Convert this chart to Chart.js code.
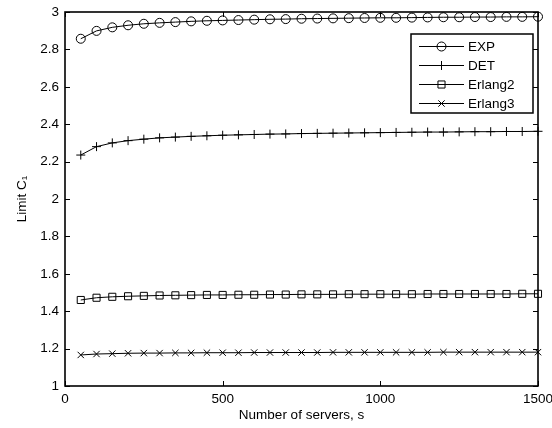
<!DOCTYPE html>
<html>
<head>
<meta charset="utf-8">
<script src="https://cdn.jsdelivr.net/npm/chart.js@4.4.0/dist/chart.umd.min.js"></script>
<style>
html,body{margin:0;padding:0;background:#fff;}
#wrap{width:552px;height:428px;}
</style>
</head>
<body>
<div id="wrap"><canvas id="c" width="552" height="428"></canvas></div>
<script>
// ---- data ----
const servers = [50,100,150,200,250,300,350,400,450,500,550,600,650,700,750,800,850,900,950,1000,1050,1100,1150,1200,1250,1300,1350,1400,1450,1500];
const seriesNames = ['EXP','DET','Erlang2','Erlang3'];
const expValues = [2.857,2.899,2.918,2.929,2.937,2.942,2.946,2.950,2.953,2.955,2.957,2.959,2.961,2.962,2.964,2.965,2.966,2.967,2.968,2.969,2.969,2.970,2.971,2.972,2.972,2.973,2.973,2.974,2.974,2.975];
const detValues = [2.235,2.280,2.300,2.312,2.320,2.327,2.331,2.335,2.338,2.341,2.343,2.345,2.347,2.348,2.350,2.351,2.352,2.353,2.354,2.355,2.356,2.357,2.358,2.358,2.359,2.360,2.360,2.361,2.361,2.362];
const erlang2Values = [1.460,1.472,1.477,1.480,1.482,1.484,1.485,1.486,1.487,1.487,1.488,1.488,1.489,1.489,1.490,1.490,1.490,1.491,1.491,1.491,1.491,1.491,1.492,1.492,1.492,1.492,1.492,1.492,1.493,1.493];
const erlang3Values = [1.166,1.171,1.173,1.175,1.176,1.176,1.177,1.177,1.178,1.178,1.178,1.179,1.179,1.179,1.179,1.179,1.180,1.180,1.180,1.180,1.180,1.180,1.180,1.181,1.181,1.181,1.181,1.181,1.181,1.181];
const xTicks = [0,500,1000,1500];
const yTicks = [1,1.2,1.4,1.6,1.8,2,2.2,2.4,2.6,2.8,3];
const xTitle = 'Number of servers, s';
const yTitle = 'Limit C\u2081';

// ---- styles ----
const FONT = '"Liberation Sans", Arial, Helvetica, sans-serif';
const FS = 13.5;
const markers = [
  {style:'circle', radius:4.5},
  {style:'cross', radius:4.5},
  {style:'rect', radius:5},
  {style:'crossRot', radius:4.5}
];
const allValues = [expValues, detValues, erlang2Values, erlang3Values];

const datasets = allValues.map((vals, i) => ({
  label: seriesNames[i],
  data: servers.map((s, j) => ({x: s, y: vals[j]})),
  borderColor: '#000',
  backgroundColor: 'rgba(0,0,0,0)',
  borderWidth: 1,
  pointStyle: markers[i].style,
  pointRadius: markers[i].radius,
  pointBorderWidth: 1,
  pointBorderColor: '#000',
  pointBackgroundColor: 'rgba(0,0,0,0)',
  tension: 0,
  clip: 8
}));

const framePlugin = {
  id: 'frame',
  afterDatasetsDraw(chart) {
    const ctx = chart.ctx;
    const a = chart.chartArea;
    const xs = chart.scales.x, ys = chart.scales.y;
    ctx.save();
    ctx.strokeStyle = '#000';
    // inward ticks
    ctx.lineWidth = 1;
    const tl = 5;
    ctx.beginPath();
    xTicks.forEach(v => {
      const px = Math.round(xs.getPixelForValue(v)) + 0.5;
      ctx.moveTo(px, a.bottom); ctx.lineTo(px, a.bottom - tl);
      ctx.moveTo(px, a.top); ctx.lineTo(px, a.top + tl);
    });
    yTicks.forEach(v => {
      const py = Math.round(ys.getPixelForValue(v)) + 0.5;
      ctx.moveTo(a.left, py); ctx.lineTo(a.left + tl, py);
      ctx.moveTo(a.right, py); ctx.lineTo(a.right - tl, py);
    });
    ctx.stroke();
    // box
    ctx.lineWidth = 1.6;
    ctx.strokeRect(a.left, a.top, a.right - a.left, a.bottom - a.top);

    // legend
    const lx = 411, ly = 34, lw = 122, lh = 79;
    ctx.fillStyle = '#fff';
    ctx.fillRect(lx, ly, lw, lh);
    ctx.lineWidth = 1.5;
    ctx.strokeRect(lx, ly, lw, lh);
    ctx.font = FS + 'px ' + FONT;
    ctx.textBaseline = 'middle';
    ctx.textAlign = 'left';
    seriesNames.forEach((name, i) => {
      const y = ly + 12 + i * 19;
      ctx.lineWidth = 1;
      ctx.strokeStyle = '#000';
      ctx.beginPath();
      ctx.moveTo(419, y + 0.5); ctx.lineTo(464, y + 0.5);
      ctx.stroke();
      ctx.fillStyle = 'rgba(0,0,0,0)';
      Chart.helpers.drawPoint(ctx, {pointStyle: markers[i].style, radius: markers[i].radius, rotation: 0, borderWidth: 1}, 441.5, y + 0.5);
      ctx.fillStyle = '#000';
      ctx.fillText(name, 468, y + 1);
    });
    ctx.restore();
  }
};

new Chart(document.getElementById('c'), {
  type: 'line',
  data: {datasets},
  options: {
    responsive: false,
    animation: false,
    devicePixelRatio: 1,
    layout: {padding: {top: 12, right: 14, bottom: 0, left: 0}},
    plugins: {legend: {display: false}, tooltip: {enabled: false}},
    scales: {
      x: {
        type: 'linear',
        min: 0, max: 1500,
        afterBuildTicks(s) { s.ticks = xTicks.map(v => ({value: v})); },
        afterFit(s) { s.height = 42; s.paddingLeft = 0; s.paddingRight = 0; },
        grid: {display: false, drawTicks: false},
        border: {display: false},
        ticks: {color: '#000', font: {family: FONT, size: FS}, padding: 5, maxRotation: 0, autoSkip: false,
          callback: v => String(v)},
        title: {display: true, text: xTitle, color: '#000', font: {family: FONT, size: FS}, padding: {top: 0, bottom: 5}}
      },
      y: {
        type: 'linear',
        min: 1, max: 3,
        afterBuildTicks(s) { s.ticks = yTicks.map(v => ({value: v})); },
        afterFit(s) { s.width = 65; s.paddingTop = 0; s.paddingBottom = 0; },
        grid: {display: false, drawTicks: false},
        border: {display: false},
        ticks: {color: '#000', font: {family: FONT, size: FS}, padding: 6, autoSkip: false,
          callback: v => String(+Number(v).toFixed(1))},
        title: {display: true, text: yTitle, color: '#000', font: {family: FONT, size: FS}, padding: {top: 14, bottom: 0}}
      }
    }
  },
  plugins: [framePlugin]
});
</script>
</body>
</html>
